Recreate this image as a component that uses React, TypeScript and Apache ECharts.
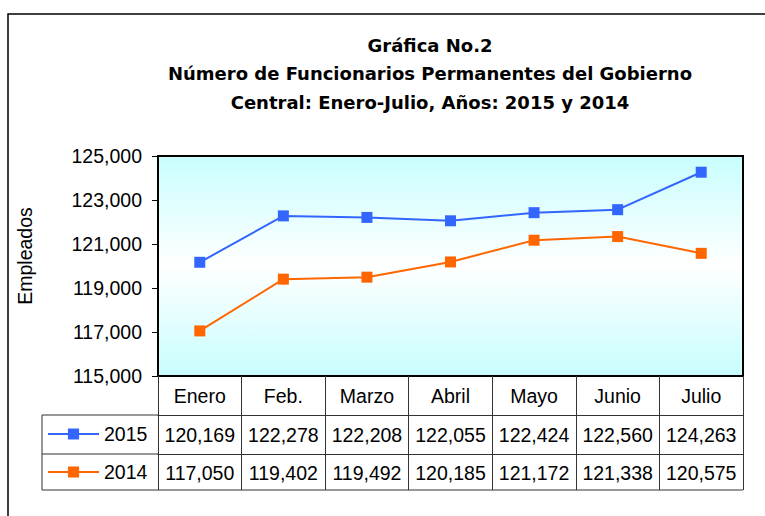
import React, { useEffect, useRef } from "react";
import * as echarts from "echarts";

const titleLines = [
  "Gráfica No.2",
  "Número de Funcionarios Permanentes del Gobierno",
  "Central: Enero-Julio, Años: 2015 y 2014",
];
const categories = ["Enero", "Feb.", "Marzo", "Abril", "Mayo", "Junio", "Julio"];
const seriesNames = ["2015", "2014"];
const values2015 = [120169, 122278, 122208, 122055, 122424, 122560, 124263];
const values2014 = [117050, 119402, 119492, 120185, 121172, 121338, 120575];
const yMin = 115000;
const yMax = 125000;
const yStep = 2000;
const yAxisName = "Empleados";

const fmt = (v: number) => v.toLocaleString("en-US");

export default function App() {
  const ref = useRef<HTMLDivElement>(null);
  useEffect(() => {
    document.body.style.margin = "0";
    const chart = echarts.init(ref.current!, null, { renderer: "svg" });
    const font = "Liberation Sans";
    const txt = { fontFamily: font, fontSize: 19.5, color: "#000" };
    const lineCol = "#333";
    const legendBase = {
      left: 47,
      orient: "horizontal",
      itemWidth: 51,
      itemHeight: 14,
      selectedMode: false,
      textStyle: { ...txt },
      padding: 0,
    };
    chart.setOption({
      animation: false,
      backgroundColor: "#fff",
      graphic: [
        {
          type: "rect",
          shape: { x: 8, y: 14, width: 900, height: 700 },
          style: { fill: "none", stroke: "#000", lineWidth: 1.5 },
          z: 0,
        },
        {
          type: "text",
          x: 430,
          y: 73.5,
          style: {
            text: titleLines.join("\n"),
            font: "bold 18px 'DejaVu Sans'",
            fill: "#000",
            align: "center",
            verticalAlign: "middle",
            textAlign: "center",
            textVerticalAlign: "middle",
            lineHeight: 28.5,
          },
        },
        { type: "line", shape: { x1: 42, y1: 415, x2: 158, y2: 415 }, style: { stroke: lineCol, lineWidth: 1 } },
        { type: "line", shape: { x1: 42, y1: 454, x2: 158, y2: 454 }, style: { stroke: lineCol, lineWidth: 1 } },
        { type: "line", shape: { x1: 42, y1: 490, x2: 743, y2: 490 }, style: { stroke: lineCol, lineWidth: 1 } },
        { type: "line", shape: { x1: 42, y1: 415, x2: 42, y2: 490 }, style: { stroke: lineCol, lineWidth: 1 } },
      ],
      legend: [
        { ...legendBase, top: 424, data: [seriesNames[0]] },
        { ...legendBase, top: 462, data: [seriesNames[1]] },
      ],
      grid: {
        left: 158,
        right: 22,
        top: 156,
        bottom: 140,
        show: true,
        borderColor: "#000",
        borderWidth: 2,
        backgroundColor: new echarts.graphic.LinearGradient(0, 0, 0, 1, [
          { offset: 0, color: "#c8fdfd" },
          { offset: 0.5, color: "#ffffff" },
          { offset: 1, color: "#c8fdfd" },
        ]),
      },
      xAxis: [
        {
          type: "category",
          data: categories,
          position: "bottom",
          axisLine: { show: true, lineStyle: { color: "#000", width: 1 } },
          axisTick: { show: true, length: 39, lineStyle: { color: lineCol } },
          axisLabel: { ...txt, margin: 9.5, interval: 0 },
        },
        {
          type: "category",
          data: values2015.map(fmt),
          position: "bottom",
          offset: 39,
          axisLine: { show: true, lineStyle: { color: lineCol, width: 1 } },
          axisTick: { show: true, length: 39, lineStyle: { color: lineCol } },
          axisLabel: { ...txt, margin: 9.5, interval: 0 },
        },
        {
          type: "category",
          data: values2014.map(fmt),
          position: "bottom",
          offset: 78,
          axisLine: { show: true, lineStyle: { color: lineCol, width: 1 } },
          axisTick: { show: true, length: 36, lineStyle: { color: lineCol } },
          axisLabel: { ...txt, margin: 8.5, interval: 0 },
        },
      ],
      yAxis: {
        type: "value",
        min: yMin,
        max: yMax,
        interval: yStep,
        name: yAxisName,
        nameLocation: "middle",
        nameRotate: 90,
        nameGap: 123,
        nameTextStyle: { ...txt, padding: [0, 0, 0, 20] },
        axisLine: { show: true, lineStyle: { color: "#000", width: 1 } },
        axisTick: { show: true, length: 6, lineStyle: { color: "#000" } },
        axisLabel: { ...txt, margin: 16, formatter: (v: number) => fmt(v) },
        splitLine: { show: false },
      },
      series: [
        {
          name: seriesNames[0],
          type: "line",
          data: values2015,
          xAxisIndex: 0,
          symbol: "rect",
          symbolSize: 11,
          itemStyle: { color: "#3366ff" },
          lineStyle: { color: "#3366ff", width: 2 },
        },
        {
          name: seriesNames[1],
          type: "line",
          data: values2014,
          xAxisIndex: 0,
          symbol: "rect",
          symbolSize: 11,
          itemStyle: { color: "#ff6600" },
          lineStyle: { color: "#ff6600", width: 2 },
        },
      ],
    });
    return () => chart.dispose();
  }, []);
  return (
    <div
      ref={ref}
      style={{ position: "fixed", left: 0, top: 0, width: 765, height: 516 }}
    />
  );
}
